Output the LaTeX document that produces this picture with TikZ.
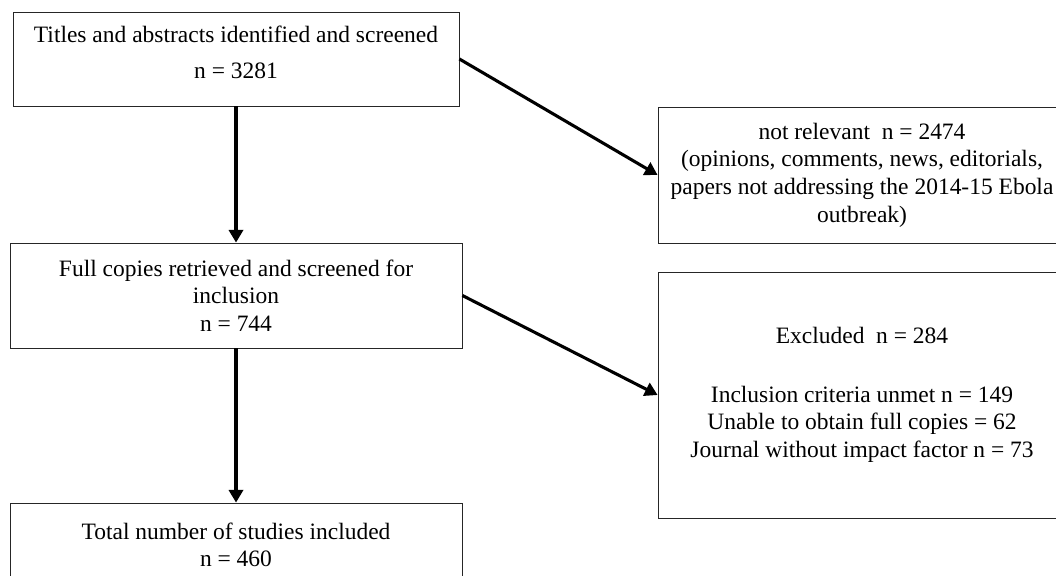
\documentclass[tikz,border=0pt]{standalone}
\usepackage{fontspec}
\setmainfont{Liberation Serif}
\usetikzlibrary{arrows.meta}

\tikzset{
  flowbox/.style={draw=black!85, line width=0.6pt, fill=white, align=center,
    inner sep=0pt, font=\fontsize{16.7pt}{19.6pt}\selectfont},
}

\begin{document}
\begin{tikzpicture}[x=0.025cm, y=-0.025cm, >={Triangle[length=9pt, width=10pt]}]
    \useasboundingbox (0, 0) rectangle (1056, 575);
    \clip (0, 0) rectangle (1056, 575);

    % boxes
    \node[flowbox, minimum width=446*0.025cm, minimum height=94*0.025cm] (titles) at (236, 59)
        {Titles and abstracts identified and screened\\[6pt] n = 3281\\[-10pt]\mbox{}};
    \node[flowbox, minimum width=408*0.025cm, minimum height=136*0.025cm] (notrel) at (862, 175)
        {not relevant \ n = 2474\\ (opinions, comments, news, editorials,\\ papers not addressing the 2014-15 Ebola\\ outbreak)};
    \node[flowbox, minimum width=452*0.025cm, minimum height=105*0.025cm] (full) at (236, 295.5)
        {Full copies retrieved and screened for\\ inclusion\\ n = 744};
    \node[flowbox, minimum width=408*0.025cm, minimum height=246*0.025cm] (excl) at (862, 395)
        {Excluded \ n = 284\\[22pt] Inclusion criteria unmet n = 149\\ Unable to obtain full copies = 62\\ Journal without impact factor n = 73};
    \node[flowbox, minimum width=452*0.025cm, minimum height=84*0.025cm] (total) at (236, 545)
        {Total number of studies included\\ n = 460};

    % arrows
    \draw[->, line width=2.2pt] (titles.south) -- (full.north);
    \draw[->, line width=2.2pt] (full.south) -- (total.north);
    \draw[->, line width=2.2pt] (titles.east) -- (notrel.west);
    \draw[->, line width=2.2pt] (full.east) -- (excl.west);
\end{tikzpicture}
\end{document}
